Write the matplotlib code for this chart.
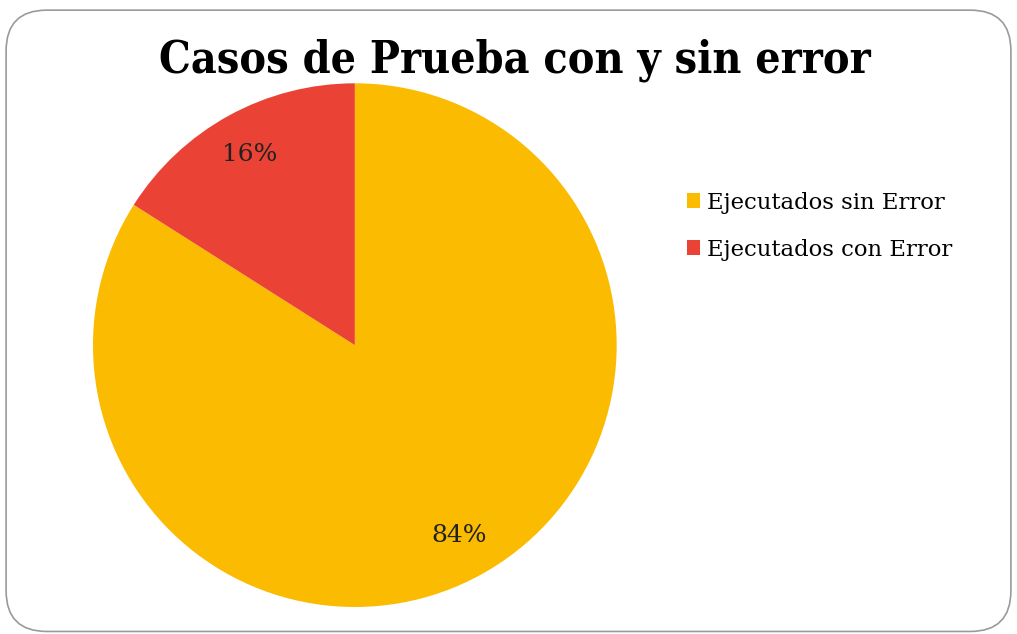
import matplotlib.pyplot as plt
from matplotlib.patches import FancyBboxPatch

categorias = ['Ejecutados sin Error', 'Ejecutados con Error']
porcentajes = [84, 16]
colores = ['#FABB00', '#EA4335']

fig = plt.figure(figsize=(10.17, 6.34), dpi=100)

# marco redondeado
marco = FancyBboxPatch((0.006, 0.004), 0.988, 0.98, boxstyle='round,pad=0,rounding_size=0.04',
                       transform=fig.transFigure, facecolor='none', edgecolor='#9a9a9a',
                       linewidth=1.2, mutation_aspect=1017 / 634)
fig.patches.append(marco)

ax = fig.add_axes([0.0914, 0.0426, 0.515, 0.826])
wedges, textos, autotextos = ax.pie(porcentajes, colors=colores, startangle=90, counterclock=False,
                                    autopct='%1.0f%%', pctdistance=0.83,
                                    textprops={'fontsize': 18, 'family': 'DejaVu Serif', 'color': '#222222'})
ax.set_xlim(-1, 1)
ax.set_ylim(-1, 1)
ax.set_aspect('equal')

fig.text(0.506, 0.905, 'Casos de Prueba con y sin error', ha='center', va='center',
         fontsize=32, fontweight='bold', family='DejaVu Serif', fontstretch='condensed')

ley = fig.legend(wedges, categorias, loc='upper left', bbox_to_anchor=(0.655, 0.73),
                 frameon=False, prop={'family': 'DejaVu Serif', 'size': 16.4},
                 handlelength=0.6, handleheight=0.6, handletextpad=0.3, labelspacing=1.1)

plt.savefig('out.png', dpi=100)
